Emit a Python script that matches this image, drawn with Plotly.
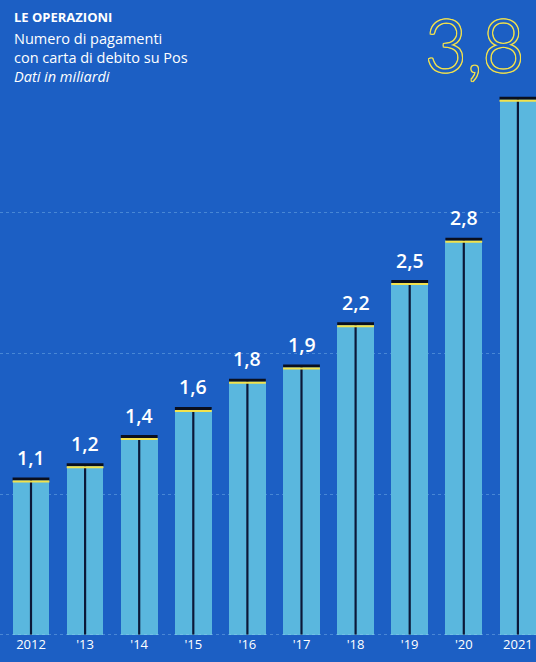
import plotly.graph_objects as go

years = ["2012", "'13", "'14", "'15", "'16", "'17", "'18", "'19", "'20", "2021"]
values = [1.1, 1.2, 1.4, 1.6, 1.8, 1.9, 2.2, 2.5, 2.8, 3.8]
labels = ["1,1", "1,2", "1,4", "1,6", "1,8", "1,9", "2,2", "2,5", "2,8", "3,8"]

BG = "#1c5fc4"
BAR = "#5ab7de"
NAVY = "#0b1838"
YELLOW = "#f3e24c"
W = 536
H = 662
BASE = 635  # pixel of baseline
FONT = "Open Sans"

x = list(range(len(years)))
bw = 0.68

fig = go.Figure()
fig.add_trace(go.Bar(
    x=x, y=values, width=bw, marker=dict(color=BAR, line=dict(width=0)),
    hoverinfo="skip",
))

shapes = []
annotations = []
for i, v in enumerate(values):
    shapes.append(dict(type="line", xref="x", yref="y", x0=i, x1=i, y0=0, y1=v,
                       line=dict(color=NAVY, width=2.2), layer="above"))
    shapes.append(dict(type="line", xref="x", yref="y", ysizemode="pixel", yanchor=v,
                       x0=i - bw / 2, x1=i + bw / 2, y0=1, y1=1,
                       line=dict(color="#0a0f1e", width=3), layer="above"))
    shapes.append(dict(type="line", xref="x", yref="y", ysizemode="pixel", yanchor=v,
                       x0=i - bw / 2, x1=i + bw / 2, y0=-1.5, y1=-1.5,
                       line=dict(color=YELLOW, width=2), layer="above"))
    if i < len(values) - 1:
        annotations.append(dict(x=i, y=v, xref="x", yref="y", text=labels[i],
                                showarrow=False, yanchor="bottom", yshift=7,
                                font=dict(family=FONT, size=19.5, color="white", weight=600)))

outline = ", ".join(f"{dx}px {dy}px 0 {YELLOW}" for dx, dy in
                    [(1, 0), (-1, 0), (0, 1), (0, -1), (1, 1), (-1, -1), (1, -1), (-1, 1)])
annotations.append(dict(x=len(values) - 1 - 0.8, y=values[-1], xref="x", yref="y",
                        text=labels[-1], showarrow=False, yanchor="bottom", yshift=10,
                        font=dict(family="Lato", size=72, color=BG, weight=300, shadow=outline)))

def py(p):
    return 1 - p / BASE

annotations += [
    dict(x=0.022, y=py(17), xref="paper", yref="paper", xanchor="left", yanchor="middle",
         text="<b>LE OPERAZIONI</b>", showarrow=False,
         font=dict(family=FONT, size=13, color="white")),
    dict(x=0.022, y=py(38), xref="paper", yref="paper", xanchor="left", yanchor="middle",
         text="Numero di pagamenti", showarrow=False,
         font=dict(family=FONT, size=14.5, color="white")),
    dict(x=0.022, y=py(57.5), xref="paper", yref="paper", xanchor="left", yanchor="middle",
         text="con carta di debito su Pos", showarrow=False,
         font=dict(family=FONT, size=14.5, color="white")),
    dict(x=0.022, y=py(77), xref="paper", yref="paper", xanchor="left", yanchor="middle",
         text="<i>Dati in miliardi</i>", showarrow=False,
         font=dict(family=FONT, size=14.5, color="white")),
]

shapes.append(dict(type="line", xref="paper", yref="y", x0=0, x1=1, y0=0, y1=0,
                   line=dict(color="rgba(160,210,245,0.7)", width=1.2, dash="dot"),
                   layer="above"))

step = 54.1
left = -31 / step
right = (W - 31) / step
fig.update_layout(
    width=W, height=H,
    margin=dict(l=0, r=0, t=0, b=H - BASE),
    paper_bgcolor=BG, plot_bgcolor=BG,
    showlegend=False,
    bargap=0,
    xaxis=dict(range=[left, right], tickmode="array", tickvals=x, ticktext=years,
               tickfont=dict(family=FONT, size=13, color="white"),
               showgrid=False, zeroline=False, showline=False, ticks=""),
    yaxis=dict(range=[0, BASE / 141.0], tickvals=[1, 2, 3], showticklabels=False,
               showgrid=True, gridcolor="rgba(140,195,240,0.4)", griddash="dot", gridwidth=1,
               zeroline=False, showline=False, ticks=""),
    shapes=shapes,
    annotations=annotations,
)

fig.write_html("out.html")
